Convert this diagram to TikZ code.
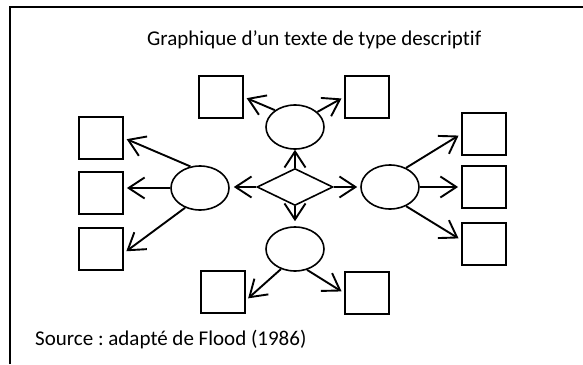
\documentclass[tikz,border=0pt]{standalone}
\usepackage{fontspec}
\setmainfont{Carlito}[Ligatures=NoCommon]
\usetikzlibrary{shapes.geometric,arrows.meta}
\tikzset{
  box/.style={draw,line width=1.8pt,rectangle,minimum width=44pt,minimum height=42pt,inner sep=0pt},
  oval/.style={draw,line width=1.6pt,ellipse,minimum width=58pt,minimum height=44pt,inner sep=0pt},
  rhomb/.style={draw,line width=1.6pt,diamond,minimum width=76pt,minimum height=37pt,inner sep=0pt},
  arr/.style={line width=1.9pt,-{Straight Barb[length=16pt,width=21pt,line width=1.9pt]},shorten >=3pt},
  lbl/.style={inner sep=0pt,anchor=base west,font=\fontsize{21}{25}\selectfont},
  frame/.style={line width=2pt}
}
\begin{document}
\frenchspacing
\begin{tikzpicture}[x=1pt,y=-1pt]
\useasboundingbox (0,0) rectangle (583,364);
\draw[frame] (10,364) -- (10,7) -- (583,7);

\node[lbl] (title) at (147,45) {Graphique d’un texte de type descriptif};
\node[lbl] (src) at (35,345) {\frenchspacing Source : adapté de Flood (1986)};

% boxes
\node[box] (lb1) at (101,138) {};
\node[box] (lb2) at (101,193) {};
\node[box] (lb3) at (101,249) {};
\node[box] (rb1) at (484,134) {};
\node[box] (rb2) at (484,187) {};
\node[box] (rb3) at (484,244) {};
\node[box] (tb1) at (221,97) {};
\node[box] (tb2) at (367,97) {};
\node[box] (bb1) at (223,292) {};
\node[box] (bb2) at (367,293) {};

% ellipses
\node[oval] (el) at (200,188) {};
\node[oval] (er) at (390,187) {};
\node[oval] (et) at (295,127) {};
\node[oval] (eb) at (295,249) {};

% diamond
\node[rhomb] (dia) at (295,187) {};

% diamond arrows
\draw[arr,shorten >=4pt] (dia.west) -- (dia.west -| el.east);
\draw[arr,shorten >=3pt] (dia.east) -- (dia.east -| er.west);
\draw[arr,shorten >=0pt] (dia.north) -- (et.south);
\draw[arr,shorten >=5pt] (dia.south) -- (eb.north);

% left
\draw[arr] (el.114) -- (lb1.east);
\draw[arr] (el.west) -- (el.west -| lb2.east);
\draw[arr] (el.233) -- (lb3.-10);
% right
\draw[arr] (er.50) -- (rb1.west);
\draw[arr] (er.east) -- (er.east -| rb2.west);
\draw[arr] (er.-50) -- (rb3.170);
% top
\draw[arr] (et.140) -- (tb1.east);
\draw[arr] (et.34) -- (tb2.west);
% bottom
\draw[arr] (eb.235) -- (bb1.-20);
\draw[arr] (eb.-60) -- (bb2.west);
\end{tikzpicture}
\end{document}
